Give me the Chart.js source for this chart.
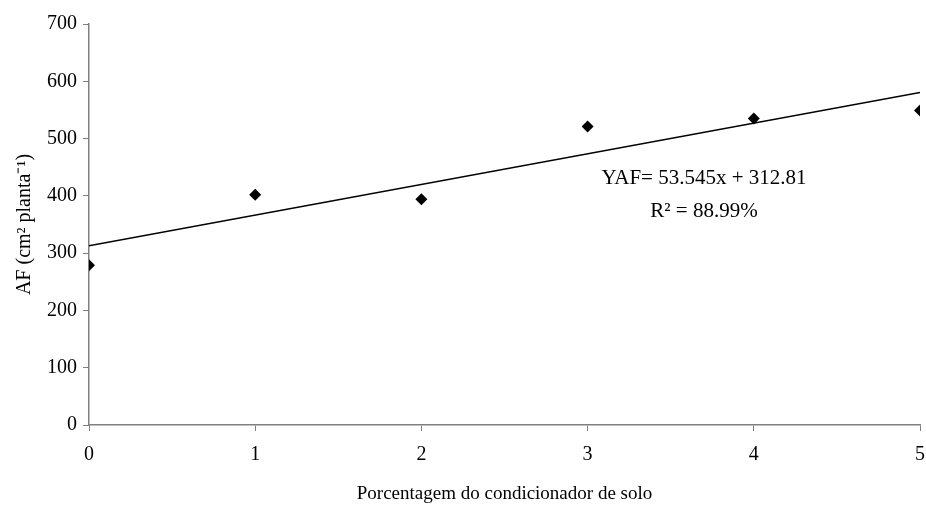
<!DOCTYPE html>
<html>
<head>
<meta charset="utf-8">
<script src="https://cdn.jsdelivr.net/npm/chart.js@4"></script>
<style>
  html, body { margin: 0; padding: 0; background: #fff; }
  #wrap { width: 926px; height: 517px; }
</style>
</head>
<body>
<div id="wrap"><canvas id="chartAF"></canvas></div>
<script>
const doses = [0, 1, 2, 3, 4, 5];
const areaFoliar = [279, 402, 394, 521, 535, 549];
const slope = 53.545;
const intercept = 312.81;
const yTicks = [0, 100, 200, 300, 400, 500, 600, 700];
const eqText = ['YAF= 53.545x + 312.81', 'R² = 88.99%'];

const pontos = doses.map((d, i) => ({ x: d, y: areaFoliar[i] }));
const xMin = doses[0], xMax = doses[doses.length - 1];
const tendencia = [
    { x: xMin, y: slope * xMin + intercept },
    { x: xMax, y: slope * xMax + intercept }
];

const fonte = 'Liberation Serif, Times New Roman, serif';
const cinza = '#808080';

// texto da equacao, posicionado em coordenadas do grafico
const equacao = {
    id: 'equacao',
    afterDatasetsDraw(chart) {
        const { ctx, scales } = chart;
        const px = scales.x.getPixelForValue(3.7);
        ctx.save();
        ctx.fillStyle = '#000';
        ctx.textAlign = 'center';
        ctx.textBaseline = 'middle';
        ctx.font = '21px ' + fonte;
        ctx.fillText(eqText[0], px, scales.y.getPixelForValue(431));
        ctx.fillText(eqText[1], px, scales.y.getPixelForValue(372));
        ctx.restore();
    }
};

const ctxAF = document.getElementById('chartAF');

const chartAF = new Chart(ctxAF, {
    type: 'scatter',
    data: {
        datasets: [{
            label: 'AF',
            data: pontos,
            pointStyle: 'rectRot',
            pointRadius: 6,
            pointHoverRadius: 6,
            backgroundColor: '#000',
            borderColor: '#000',
            borderWidth: 0,
            order: 1
        }, {
            label: 'Linear',
            type: 'line',
            data: tendencia,
            borderColor: '#000',
            borderWidth: 1.5,
            pointRadius: 0,
            fill: false,
            order: 2
        }]
    },
    options: {
        responsive: true,
        maintainAspectRatio: false,
        animation: false,
        layout: { padding: { left: 0, right: 6, top: 24, bottom: 0 } },
        plugins: {
            legend: { display: false },
            tooltip: { enabled: false }
        },
        scales: {
            x: {
                type: 'linear',
                min: 0,
                max: 5,
                afterFit: function(scale) {
                    scale.height = 92;
                    scale.paddingLeft = 0;
                    scale.paddingRight = 0;
                },
                ticks: {
                    stepSize: 1,
                    color: '#000',
                    padding: 12,
                    font: { family: fonte, size: 20 }
                },
                grid: { drawOnChartArea: false, tickLength: 6, color: cinza },
                border: { color: cinza, width: 1.5 },
                title: {
                    display: true,
                    text: 'Porcentagem do condicionador de solo',
                    color: '#000',
                    font: { family: fonte, size: 19 },
                    padding: { top: 0, bottom: 12 }
                }
            },
            y: {
                min: 0,
                max: 700,
                afterFit: function(scale) { scale.width = 89; },
                afterBuildTicks: function(scale) {
                    scale.ticks = yTicks.map(v => ({ value: v }));
                },
                ticks: {
                    color: '#000',
                    padding: 6,
                    font: { family: fonte, size: 20 }
                },
                grid: { drawOnChartArea: false, tickLength: 6, color: cinza },
                border: { color: cinza, width: 1.5 },
                title: {
                    display: true,
                    text: 'AF (cm² planta⁻¹)',
                    color: '#000',
                    font: { family: fonte, size: 20 },
                    padding: { top: 13, bottom: 0 }
                }
            }
        }
    },
    plugins: [equacao]
});
</script>
</body>
</html>
